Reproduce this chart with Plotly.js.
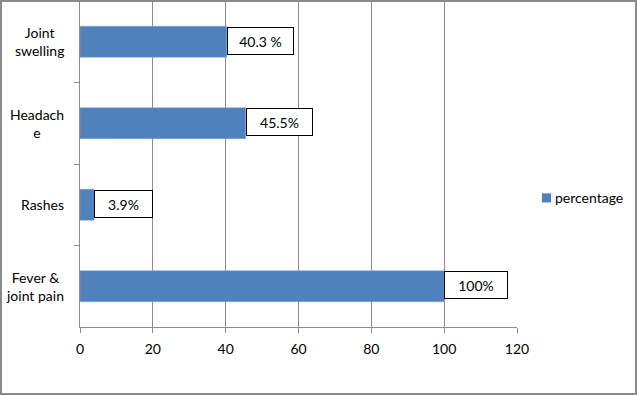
<!DOCTYPE html>
<html>
<head>
<meta charset="utf-8">
<script src="https://cdn.plot.ly/plotly-3.0.1.min.js"></script>
<style>
html,body{margin:0;padding:0;background:#fff;}
#chart{position:absolute;left:0;top:0;width:637px;height:395px;}
#frame{position:absolute;left:0;top:0;width:637px;height:395px;box-sizing:border-box;border:2px solid #8a8a8a;pointer-events:none;}
</style>
</head>
<body>
<div id="chart"></div>
<div id="frame"></div>
<script>
// Data (top to bottom)
var categories = ["Joint swelling", "Headache", "Rashes", "Fever & joint pain"];
var categoryLabels = ["Joint<br>swelling", "Headach<br>e", "Rashes", "Fever &<br>joint pain"];
var percentage = [40.3, 45.5, 3.9, 100];
var valueLabels = ["40.3 %", "45.5%", "3.9%", "100%"];
var xTicks = [0, 20, 40, 60, 80, 100, 120];
var seriesName = "percentage";

// Styling
var boxWidths = [59, 59, 51, 56];
var FONT = "Lato, 'Liberation Sans', Arial, sans-serif";
var BAR_COLOR = "#4F81BD";

var trace = {
  type: "bar",
  orientation: "h",
  y: categories,
  x: percentage,
  name: seriesName,
  marker: {color: BAR_COLOR, line: {color: "#7FA3D0", width: 0.5}},
  showlegend: false
};

var annotations = [];
categories.forEach(function(c, i) {
  annotations.push({
    x: percentage[i], y: c, xref: "x", yref: "y",
    xanchor: "left", yanchor: "middle",
    text: valueLabels[i], showarrow: false,
    font: {family: FONT, size: 14, color: "#000"},
    bgcolor: "#fff", bordercolor: "#000", borderwidth: 1, borderpad: 3,
    width: boxWidths[i], height: 20, yshift: 1
  });
  annotations.push({
    x: -0.032, xref: "paper", y: c, yref: "y",
    xanchor: "right", yanchor: "middle", align: "center",
    text: categoryLabels[i], showarrow: false,
    font: {family: FONT, size: 14, color: "#000"}
  });
});
// legend text
annotations.push({
  x: 1.083, xref: "paper", y: 0.396, yref: "paper",
  xanchor: "left", yanchor: "middle",
  text: seriesName, showarrow: false,
  font: {family: FONT, size: 14, color: "#000"}
});

var layout = {
  width: 637, height: 395,
  margin: {l: 80, r: 120, t: 1, b: 68, pad: 0},
  paper_bgcolor: "#fff", plot_bgcolor: "#fff",
  font: {family: FONT, size: 14, color: "#000"},
  bargap: 0.62,
  xaxis: {
    range: [0, 120], tickvals: xTicks, ticktext: xTicks.map(String),
    showgrid: true, gridcolor: "#8c8c8c", gridwidth: 1,
    showline: true, linecolor: "#8c8c8c", linewidth: 1,
    ticks: "outside", ticklen: 5, tickcolor: "#8c8c8c",
    ticklabelstandoff: 4,
    zeroline: false, fixedrange: true,
    tickfont: {family: FONT, size: 14, color: "#000"}
  },
  yaxis: {
    type: "category", categoryorder: "array", categoryarray: categories,
    autorange: "reversed",
    showticklabels: false,
    showgrid: false, showline: true, linecolor: "#8c8c8c", linewidth: 1,
    ticks: "outside", ticklen: 5, tickcolor: "#8c8c8c", tickson: "boundaries",
    zeroline: false, fixedrange: true
  },
  showlegend: false,
  shapes: [{
    type: "rect", xref: "paper", yref: "paper",
    x0: 1.057, x1: 1.078, y0: 0.382, y1: 0.41,
    fillcolor: BAR_COLOR, line: {width: 0}
  }],
  annotations: annotations
};

Plotly.newPlot("chart", [trace], layout, {displayModeBar: false, staticPlot: true});
</script>
</body>
</html>
